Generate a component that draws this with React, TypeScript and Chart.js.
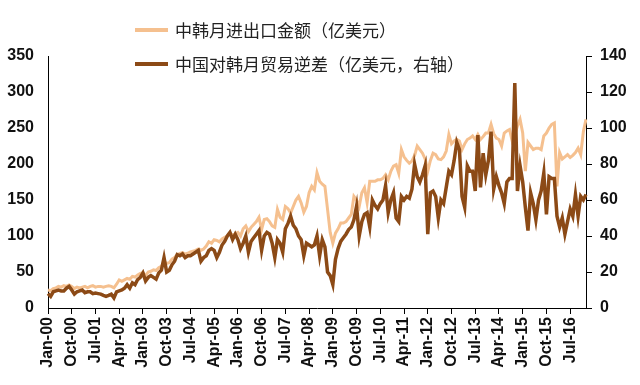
import React, { useEffect, useRef } from 'react';
import { Chart, registerables } from 'chart.js';

Chart.register(...registerables);

// ---- data ----
const MONTH_NAMES = ['Jan', 'Feb', 'Mar', 'Apr', 'May', 'Jun', 'Jul', 'Aug', 'Sep', 'Oct', 'Nov', 'Dec'];
const START_YEAR = 2000;
const MONTH_COUNT = 205; // Jan-00 .. Jan-17
const categories: string[] = Array.from({ length: MONTH_COUNT }, (_, i) =>
  `${MONTH_NAMES[i % 12]}-${String((START_YEAR + Math.floor(i / 12)) % 100).padStart(2, '0')}`
);
const LABEL_EVERY = 9;

// 中韩月进出口金额（亿美元） left axis
const tradeTotal: number[] = [
  25, 24, 27, 28, 30, 29, 31, 30, 32, 30, 27, 29,
  28, 29, 30, 28, 30, 31, 29, 30, 30, 29, 30, 31,
  30, 28, 33, 39, 37, 39, 41, 40, 44, 43, 46, 48,
  49, 45, 50, 51, 53, 52, 56, 58, 64, 62, 63, 68,
  70, 74, 76, 77, 75, 76, 78, 79, 80, 82, 80, 82,
  86, 92, 90, 95, 94, 92, 96, 98, 100, 104, 101, 103,
  105, 100, 110, 114, 106, 112, 116, 120, 126, 109, 123, 124,
  120, 114, 112, 137, 126, 123, 141, 138, 132, 141, 150, 155,
  146, 133, 141, 160, 169, 164, 188, 176, 172, 169, 137, 105,
  90, 104, 110, 118, 118, 120, 125, 130, 155, 150, 141, 160,
  167, 146, 176, 176, 176, 178, 178, 180, 185, 178, 190, 197,
  199, 187, 220, 210, 205, 201, 204, 212, 225, 220, 215, 207,
  190, 205, 215, 213, 207, 206, 210, 218, 241, 228, 232, 234,
  232, 220, 228, 234, 236, 239, 234, 241, 234, 238, 243, 243,
  255, 242, 236, 234, 225, 243, 246, 248, 232, 240, 253, 262,
  243, 190, 230, 225, 220, 222, 222, 220, 239, 243, 250, 255,
  257, 169, 216, 207, 210, 213, 209, 212, 216, 222, 213, 245,
  262,
];

// 中国对韩月贸易逆差（亿美元，右轴） right axis
const tradeDeficit: number[] = [
  8, 6.5, 9, 9.5, 10, 9.5, 9.5, 11, 12, 10, 7.7, 9,
  9.5, 10, 8.5, 9, 9, 8, 8.3, 8, 7.7, 7, 6.5, 7,
  7.7, 5.6, 9, 9.5, 10, 11, 13, 11, 14, 13, 15.8, 17,
  19.5, 15, 17, 18, 17, 16, 19.5, 21, 28, 20, 21, 24,
  26, 29.7, 29, 30, 28, 29, 29, 30, 31, 32, 26, 28,
  29, 32, 33, 32, 28, 31, 35, 37, 40, 42, 38, 41,
  38, 33, 36, 40, 31, 37, 39, 41, 43, 32, 40, 42,
  41, 36, 28, 38, 36, 31, 44, 47, 51, 46, 44, 40,
  38, 29, 36, 35, 34, 35, 40, 29, 38, 34, 20, 18,
  13, 27, 33, 37, 39, 41, 43.6, 45, 49, 56.6, 40, 48,
  52, 53, 45, 60, 57, 55, 58, 60, 68, 53, 60, 64,
  50, 48, 62, 60, 62, 61, 66, 80, 73, 70, 74, 79,
  41, 64, 65, 62, 50, 60, 58, 67, 76, 74, 82, 92,
  88, 62, 56, 79, 76, 76, 65, 96, 67, 86, 74, 82,
  98, 66, 73, 68, 64, 58, 70, 72, 72, 125, 65, 79,
  70, 56, 43, 64, 58, 49, 60, 65, 75, 52, 73, 72,
  72, 51, 45, 50, 41, 48, 55, 51, 63, 51, 62, 60,
  63,
];

const seriesNames = ['中韩月进出口金额（亿美元）', '中国对韩月贸易逆差（亿美元，右轴）'];
const seriesColors = ['#F5C08F', '#8C4A16'];

const leftAxis = { min: 0, max: 350, step: 50 };
const rightAxis = { min: 0, max: 140, step: 20 };

const AXIS_FONT = { family: "'Liberation Sans', Arial, sans-serif", size: 16, weight: 'bold' as const };

export default function App() {
  const canvasRef = useRef<HTMLCanvasElement | null>(null);

  useEffect(() => {
    if (!canvasRef.current) return;
    const chart = new Chart(canvasRef.current, {
      type: 'line',
      data: {
        labels: categories,
        datasets: [
          {
            label: seriesNames[0],
            data: tradeTotal,
            yAxisID: 'y',
            borderColor: seriesColors[0],
            backgroundColor: seriesColors[0],
            borderWidth: 3,
            pointRadius: 0,
            tension: 0,
            order: 1,
          },
          {
            label: seriesNames[1],
            data: tradeDeficit,
            yAxisID: 'y1',
            borderColor: seriesColors[1],
            backgroundColor: seriesColors[1],
            borderWidth: 3.5,
            pointRadius: 0,
            tension: 0,
            order: 0,
          },
        ],
      },
      options: {
        responsive: false,
        animation: false,
        layout: { padding: { top: 56, left: 0, right: 0, bottom: 0 } },
        plugins: {
          legend: { display: false },
          tooltip: { enabled: false },
          title: { display: false },
        },
        scales: {
          x: {
            type: 'category',
            offset: false,
            grid: {
              drawOnChartArea: false,
              drawTicks: true,
              tickLength: 6,
              color: (ctx: any) => (ctx.index % LABEL_EVERY === 0 ? '#000' : 'rgba(0,0,0,0)'),
              tickColor: (ctx: any) => (ctx.index % LABEL_EVERY === 0 ? '#000' : 'rgba(0,0,0,0)'),
            },
            border: { display: true, color: '#000', width: 1 },
            ticks: {
              autoSkip: false,
              maxRotation: 90,
              minRotation: 90,
              padding: 3,
              color: '#111',
              font: AXIS_FONT,
              callback: (_v: any, i: number) => (i % LABEL_EVERY === 0 ? categories[i] : ''),
            },
            afterFit: (s: any) => {
              s.height = 77;
            },
          },
          y: {
            position: 'left',
            min: leftAxis.min,
            max: leftAxis.max,
            grid: { drawOnChartArea: false, drawTicks: false },
            border: { display: true, color: '#000', width: 1 },
            ticks: { stepSize: leftAxis.step, padding: 14, color: '#111', font: AXIS_FONT },
            afterFit: (s: any) => {
              s.width = 48;
            },
          },
          y1: {
            position: 'right',
            min: rightAxis.min,
            max: rightAxis.max,
            grid: { drawOnChartArea: false, drawTicks: true, tickLength: 6, color: '#000' },
            border: { display: true, color: '#000', width: 1 },
            ticks: { stepSize: rightAxis.step, padding: 8, color: '#111', font: AXIS_FONT },
            afterFit: (s: any) => {
              s.width = 54;
            },
          },
        },
      },
    });
    return () => chart.destroy();
  }, []);

  const legendRows = [30, 64];

  return (
    <div style={{ position: 'absolute', left: 0, top: 0, width: 640, height: 385, background: '#fff' }}>
      <canvas ref={canvasRef} width={640} height={385} style={{ display: 'block' }} />
      {seriesNames.map((name, i) => (
        <React.Fragment key={name}>
          <div
            style={{
              position: 'absolute',
              left: 135,
              top: legendRows[i] - 2,
              width: 33,
              height: 4,
              background: seriesColors[i],
            }}
          />
          <div
            style={{
              position: 'absolute',
              left: 175,
              top: legendRows[i] - 11,
              height: 22,
              lineHeight: '22px',
              fontFamily: "'Noto Sans CJK SC', sans-serif",
              fontSize: 17,
              color: '#222',
              whiteSpace: 'nowrap',
            }}
          >
            {name}
          </div>
        </React.Fragment>
      ))}
    </div>
  );
}
